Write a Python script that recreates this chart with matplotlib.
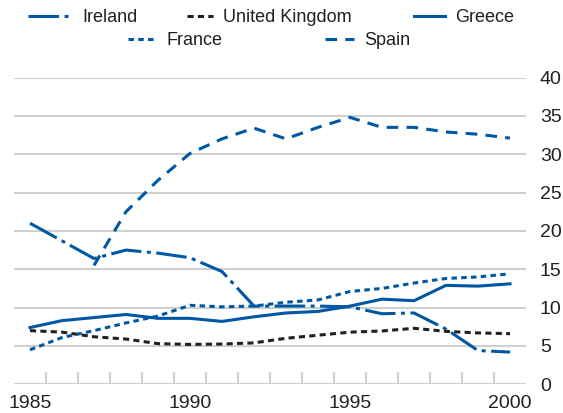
import numpy as np
import matplotlib
matplotlib.use("Agg")
import matplotlib.pyplot as plt
from matplotlib.ticker import FixedLocator

# values (per cent)
years = list(range(1985, 2001))
ireland = [21.0, 18.7, 16.4, 17.5, 17.1, 16.5, 14.7, 10.2, 10.2, 10.2, 10.1, 9.2, 9.3, 7.2, 4.4, 4.2]
uk = [7.0, 6.8, 6.2, 5.9, 5.3, 5.2, 5.25, 5.4, 6.0, 6.4, 6.8, 6.95, 7.3, 6.9, 6.7, 6.6]
greece = [7.4, 8.3, 8.7, 9.1, 8.6, 8.6, 8.2, 8.8, 9.3, 9.5, 10.2, 11.1, 10.9, 12.9, 12.8, 13.1]
france = [4.5, 6.1, 7.0, 8.0, 8.9, 10.3, 10.1, 10.2, 10.7, 11.0, 12.1, 12.5, 13.2, 13.8, 14.0, 14.4]
spain_years = list(range(1987, 2001))
spain = [15.5, 22.5, 26.6, 30.1, 32.0, 33.4, 32.0, 33.5, 34.8, 33.5, 33.5, 32.9, 32.6, 32.1]

y_ticks = [0, 5, 10, 15, 20, 25, 30, 35, 40]
x_labels = [1985, 1990, 1995, 2000]

BLUE = "#0057a4"
BLACK = "#231f20"
GRID = "#d0d0d0"
LW = 2.2

plt.rcParams["font.family"] = ["Liberation Sans", "DejaVu Sans"]

fig = plt.figure(figsize=(5.63, 4.13), dpi=100)
ax = fig.add_axes([14 / 563, 28.7 / 413, 512 / 563, 306.8 / 413])

l_ire, = ax.plot(years, ireland, color=BLUE, lw=LW, ls=(0, (10, 1.8, 1.3, 1.8)), label="Ireland")
l_uk, = ax.plot(years, uk, color=BLACK, lw=LW, ls=(0, (2.0, 1.4)), label="United Kingdom")
l_gre, = ax.plot(years, greece, color=BLUE, lw=LW, ls="-", label="Greece")
l_fra, = ax.plot(years, france, color=BLUE, lw=LW, ls=(0, (1.8, 1.4)), label="France")
l_spa, = ax.plot(spain_years, spain, color=BLUE, lw=LW, ls=(0, (3.8, 2.7)), label="Spain")

ax.set_xlim(1984.5, 2000.5)
ax.set_ylim(0, 40)

ax.yaxis.tick_right()
ax.set_yticks(y_ticks)
ax.set_xticks(x_labels)
ax.xaxis.set_minor_locator(FixedLocator(np.arange(1985.5, 2000, 1.0)))
ax.grid(axis="y", color=GRID, lw=1.5)
ax.set_axisbelow(True)
for s in ax.spines.values():
    s.set_visible(False)

tick_font = ["Liberation Sans Narrow", "Liberation Sans", "DejaVu Sans"]
ax.tick_params(axis="y", length=0, pad=10, labelsize=14, labelcolor=BLACK)
ax.tick_params(axis="x", which="major", length=0, pad=8, labelsize=14, labelcolor=BLACK)
ax.tick_params(axis="x", which="minor", direction="in", length=9, width=1.5, color=GRID)
for lab in ax.get_xticklabels() + ax.get_yticklabels():
    lab.set_family(tick_font)

# legend entries placed one by one (two rows, second row offset)
entries = [
    (l_ire, 28, 18, 2.45),
    (l_uk, 187, 18, 1.45),
    (l_gre, 414, 18, 1.7),
    (l_fra, 128, 40.5, 1.6),
    (l_spa, 325, 40.5, 1.6),
]
for line, px, py, hl in entries:
    fig.legend(handles=[line], loc="center left",
               bbox_to_anchor=(px / 563, 1 - py / 413),
               frameon=False, borderpad=0, borderaxespad=0,
               handlelength=hl, handletextpad=0.55,
               prop={"size": 13}, labelcolor=BLACK)

fig.savefig("out.png", dpi=100)
